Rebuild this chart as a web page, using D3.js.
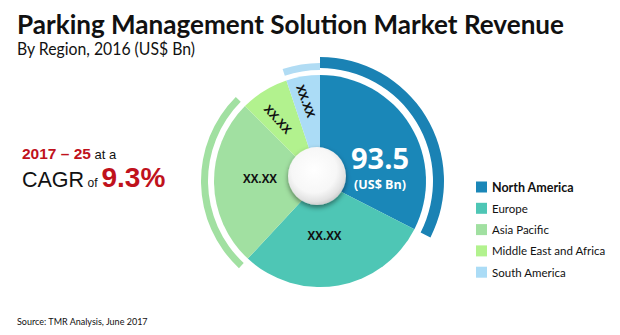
<!DOCTYPE html>
<html>
<head>
<meta charset="utf-8">
<script src="https://cdn.jsdelivr.net/npm/d3@7"></script>
<style>
  html, body { margin: 0; padding: 0; background: #ffffff; }
  svg { display: block; }
</style>
</head>
<body>
<svg id="chart" width="620" height="335"></svg>
<script>
// Regional revenue, 2016 (US$ Bn)
const regions = ["North America", "Europe", "Asia Pacific", "Middle East and Africa", "South America"];
const revenue = [30.4, 27.5, 23.9, 6.9, 4.8];
const sliceLabels = ["", "XX.XX", "XX.XX", "XX.XX", "XX.XX"];
const regionColors = ["#1a87b8", "#4ec6b5", "#a1e0a1", "#b2f28e", "#abdcf6"];
// Regions that also get a highlight band outside the pie
const bandRegions = ["North America", "Asia Pacific", "South America"];

const titleText = "Parking Management Solution Market Revenue";
const subtitleText = "By Region, 2016 (US$ Bn)";
const sourceText = "Source: TMR Analysis, June 2017";

const svg = d3.select("#chart");
const defs = svg.append("defs");

// ---- Titles ----
svg.append("text")
  .attr("x", 17).attr("y", 34)
  .attr("font-family", "Lato, 'Open Sans', sans-serif")
  .attr("font-weight", 700).attr("font-size", 27)
  .attr("textLength", 547).attr("lengthAdjust", "spacingAndGlyphs")
  .attr("fill", "#111")
  .text(titleText);

svg.append("text")
  .attr("x", 17).attr("y", 55)
  .attr("font-family", "Lato, 'Open Sans', sans-serif")
  .attr("font-size", 16.5)
  .attr("textLength", 178).attr("lengthAdjust", "spacingAndGlyphs")
  .attr("fill", "#111")
  .text(subtitleText);

// ---- Growth callout ----
const cagr = svg.append("g").attr("font-family", "'Liberation Sans', Arial, sans-serif");
const line1 = cagr.append("text").attr("x", 22).attr("y", 159);
line1.append("tspan").attr("fill", "#c0121c").attr("font-weight", 700).attr("font-size", 15.5).text("2017 \u2013 25");
line1.append("tspan").attr("fill", "#111").attr("font-size", 13).text(" at a");
const line2 = cagr.append("text").attr("x", 22).attr("y", 187);
line2.append("tspan").attr("fill", "#111").attr("font-size", 21.5).text("CAGR");
line2.append("tspan").attr("fill", "#111").attr("font-size", 12).text(" of");
line2.append("tspan").attr("fill", "#c0121c").attr("font-weight", 700).attr("font-size", 28).attr("dx", 4).text("9.3%");

// ---- Pie ----
const cx = 320, cy = 181;
const pieR = 106;
const g = svg.append("g").attr("transform", `translate(${cx},${cy})`);

const pie = d3.pie().sort(null).value(d => d.value);
const arcs = pie(regions.map((r, i) => ({ region: r, value: revenue[i], label: sliceLabels[i], color: regionColors[i] })));

const sliceArc = d3.arc().innerRadius(0).outerRadius(pieR);

g.selectAll("path.slice")
  .data(arcs)
  .join("path")
  .attr("class", "slice")
  .attr("d", sliceArc)
  .attr("fill", d => d.data.color);

// Outer highlight bands
const bandStyle = {
  "North America": { inner: 113, outer: 124, color: "#1a82b4" },
  "Asia Pacific": { inner: 112, outer: 119, color: "#a1e0a1" },
  "South America": { inner: 111, outer: 118, color: "#b1dcf4" }
};
g.selectAll("path.band")
  .data(arcs.filter(d => bandRegions.includes(d.data.region)))
  .join("path")
  .attr("class", "band")
  .attr("d", d => d3.arc()
    .innerRadius(bandStyle[d.data.region].inner)
    .outerRadius(bandStyle[d.data.region].outer)(d))
  .attr("fill", d => bandStyle[d.data.region].color);

// Slice value labels (radius, rotation and nudges per slice)
const labelStyle = [
  null,
  { r: 55, rot: 0, dx: -5, dy: 0 },
  { r: 60, rot: 0, dx: 0, dy: -4 },
  { r: 74, rot: 48, dx: -3, dy: 1 },
  { r: 81, rot: 70, dx: -1, dy: 0 }
];
arcs.forEach((d, i) => {
  const st = labelStyle[i];
  if (!st || !d.data.label) return;
  const [x, y] = d3.arc().innerRadius(st.r).outerRadius(st.r).centroid(d);
  g.append("text")
    .attr("transform", `translate(${x + st.dx},${y + st.dy}) rotate(${st.rot})`)
    .attr("text-anchor", "middle")
    .attr("dominant-baseline", "central")
    .attr("font-family", "'Open Sans', sans-serif")
    .attr("font-weight", 700)
    .attr("font-size", 11.5)
    .attr("fill", "#111")
    .text(d.data.label);
});

// Market total shown on the leading slice
const total = d3.sum(revenue);
const totalG = g.append("g").attr("transform", "translate(60,-10)")
  .attr("font-family", "'Open Sans', sans-serif")
  .attr("font-weight", 700)
  .attr("fill", "#ffffff")
  .attr("text-anchor", "middle");
totalG.append("text").attr("y", -2.5).attr("font-size", 29).text(d3.format(".1f")(total));
totalG.append("text").attr("y", 18).attr("font-size", 12.5).text("(US$ Bn)");

// Centre hub
const hubGrad = defs.append("radialGradient").attr("id", "hubGrad")
  .attr("cx", "45%").attr("cy", "40%").attr("r", "60%");
hubGrad.append("stop").attr("offset", "0%").attr("stop-color", "#ffffff");
hubGrad.append("stop").attr("offset", "65%").attr("stop-color", "#f7f7f7");
hubGrad.append("stop").attr("offset", "90%").attr("stop-color", "#e2e2e2");
hubGrad.append("stop").attr("offset", "100%").attr("stop-color", "#cfcfcf");

const shadow = defs.append("filter").attr("id", "hubShadow")
  .attr("x", "-30%").attr("y", "-30%").attr("width", "160%").attr("height", "170%");
shadow.append("feDropShadow").attr("dx", 0).attr("dy", 2.5)
  .attr("stdDeviation", 2.5).attr("flood-color", "#000").attr("flood-opacity", 0.45);

g.append("circle")
  .attr("cx", -3).attr("cy", -5).attr("r", 29)
  .attr("fill", "url(#hubGrad)")
  .attr("filter", "url(#hubShadow)");

// ---- Legend ----
const legend = svg.append("g").attr("transform", "translate(476,187)");
const rowH = 21.3;
regions.forEach((r, i) => {
  const row = legend.append("g").attr("transform", `translate(0,${i * rowH})`);
  row.append("rect").attr("x", 0).attr("y", -5.5).attr("width", 11).attr("height", 11)
    .attr("fill", regionColors[i]);
  row.append("text")
    .attr("x", 16).attr("y", 0)
    .attr("dominant-baseline", "central")
    .attr("font-family", "Lato, 'Open Sans', sans-serif")
    .attr("font-size", i === 0 ? 12.5 : 11.5)
    .attr("font-weight", i === 0 ? 700 : 400)
    .attr("fill", "#111")
    .text(r);
});

// ---- Source ----
svg.append("text")
  .attr("x", 17).attr("y", 325)
  .attr("font-family", "Lato, 'Open Sans', sans-serif")
  .attr("font-size", 9)
  .attr("fill", "#111")
  .text(sourceText);
</script>
</body>
</html>
